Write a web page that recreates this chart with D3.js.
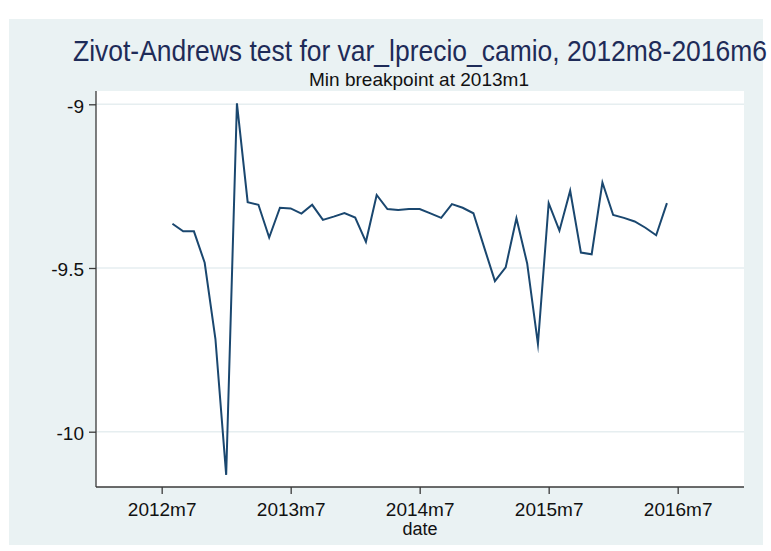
<!DOCTYPE html>
<html>
<head>
<meta charset="utf-8">
<script src="https://cdn.jsdelivr.net/npm/d3@7"></script>
<style>
  html, body { margin: 0; padding: 0; background: #ffffff; }
  svg { display: block; font-family: "Liberation Sans", Arial, Helvetica, sans-serif; }
</style>
</head>
<body>
<svg id="chart" width="771" height="551"></svg>
<script>
// ---- data (Stata monthly dates) ----
const dates = [
  "2012m8","2012m9","2012m10","2012m11","2012m12",
  "2013m1","2013m2","2013m3","2013m4","2013m5","2013m6","2013m7","2013m8","2013m9","2013m10","2013m11","2013m12",
  "2014m1","2014m2","2014m3","2014m4","2014m5","2014m6","2014m7","2014m8","2014m9","2014m10","2014m11","2014m12",
  "2015m1","2015m2","2015m3","2015m4","2015m5","2015m6","2015m7","2015m8","2015m9","2015m10","2015m11","2015m12",
  "2016m1","2016m2","2016m3","2016m4","2016m5","2016m6"
];
const tstat = [
  -9.365, -9.388, -9.388, -9.484, -9.717,
  -10.132, -8.997, -9.299, -9.307, -9.407, -9.316, -9.318, -9.334, -9.307, -9.353, -9.343, -9.332,
  -9.346, -9.420, -9.277, -9.320, -9.323, -9.320, -9.320, -9.333, -9.347, -9.305, -9.316, -9.333,
  -9.437, -9.540, -9.498, -9.348, -9.486, -9.732, -9.302, -9.386, -9.264, -9.453, -9.458, -9.239,
  -9.338, -9.347, -9.358, -9.377, -9.400, -9.302
];
const xTickLabels = ["2012m7", "2013m7", "2014m7", "2015m7", "2016m7"];
const yTickValues = [-9, -9.5, -10];
const yTickLabels = ["-9", "-9.5", "-10"];
const titleText = "Zivot-Andrews test for var_lprecio_camio, 2012m8-2016m6";
const subtitleText = "Min breakpoint at 2013m1";
const xTitle = "date";

// Stata %tm -> month index since 1960m1
function tm(s) {
  const [y, m] = s.split("m").map(Number);
  return (y - 1960) * 12 + (m - 1);
}

const data = dates.map((d, i) => ({ t: tm(d), v: tstat[i] }));

const svg = d3.select("#chart");
const plot = { left: 96, right: 744, top: 91, bottom: 487 };

// outer graph region
svg.append("rect").attr("x", 9).attr("y", 19).attr("width", 754).attr("height", 526)
  .attr("fill", "#eaf2f3");
// plot region
svg.append("rect").attr("x", plot.left).attr("y", plot.top)
  .attr("width", plot.right - plot.left).attr("height", plot.bottom - plot.top)
  .attr("fill", "#ffffff");

const x = d3.scaleLinear().domain([tm("2012m7") - 6.11, tm("2012m7") + 54.17])
  .range([plot.left, plot.right]);
const y = d3.scaleLinear().domain([-10.1689, -8.9594]).range([plot.bottom, plot.top]);

// gridlines
svg.append("g").selectAll("line").data(yTickValues).join("line")
  .attr("x1", plot.left).attr("x2", plot.right)
  .attr("y1", d => y(d)).attr("y2", d => y(d))
  .attr("stroke", "#e6eef0").attr("stroke-width", 1.6);

// series line
const line = d3.line().x(d => x(d.t)).y(d => y(d.v));
svg.append("path").datum(data).attr("d", line)
  .attr("fill", "none").attr("stroke", "#1a476f").attr("stroke-width", 2)
  .attr("stroke-linejoin", "miter").attr("stroke-miterlimit", 10);

// y axis
const yAxis = d3.axisLeft(y).tickValues(yTickValues)
  .tickFormat((d, i) => yTickLabels[i]).tickSize(7).tickPadding(5);
const gy = svg.append("g").attr("transform", `translate(${plot.left},0)`).call(yAxis);
gy.select(".domain").attr("d", `M0,${plot.top}V${plot.bottom}`)
  .attr("stroke", "#3a3a3a").attr("stroke-width", 1.3);
gy.selectAll(".tick line").attr("stroke", "#3a3a3a").attr("stroke-width", 1.3);
gy.selectAll(".tick text").attr("font-size", 19).attr("fill", "#111")
  .attr("font-family", "Liberation Sans, Arial, sans-serif").attr("dy", "0.42em");

// x axis
const xAxis = d3.axisBottom(x).tickValues(xTickLabels.map(tm))
  .tickFormat((d, i) => xTickLabels[i]).tickSize(7).tickPadding(9);
const gx = svg.append("g").attr("transform", `translate(0,${plot.bottom})`).call(xAxis);
gx.select(".domain").attr("d", `M${plot.left},0H${plot.right}`)
  .attr("stroke", "#3a3a3a").attr("stroke-width", 1.3);
gx.selectAll(".tick line").attr("stroke", "#3a3a3a").attr("stroke-width", 1.3);
gx.selectAll(".tick text").attr("font-size", 19).attr("fill", "#111")
  .attr("font-family", "Liberation Sans, Arial, sans-serif");

// axis title
svg.append("text").attr("x", (plot.left + plot.right) / 2).attr("y", 535)
  .attr("text-anchor", "middle").attr("font-size", 18).attr("fill", "#111")
  .text(xTitle);

// titles
svg.append("text").attr("x", 73).attr("y", 61)
  .attr("font-size", 29).attr("fill", "#1e2b58")
  .attr("textLength", 694).attr("lengthAdjust", "spacingAndGlyphs")
  .text(titleText);
svg.append("text").attr("x", 309).attr("y", 86)
  .attr("font-size", 19).attr("fill", "#111")
  .attr("textLength", 220).attr("lengthAdjust", "spacingAndGlyphs")
  .text(subtitleText);
</script>
</body>
</html>
